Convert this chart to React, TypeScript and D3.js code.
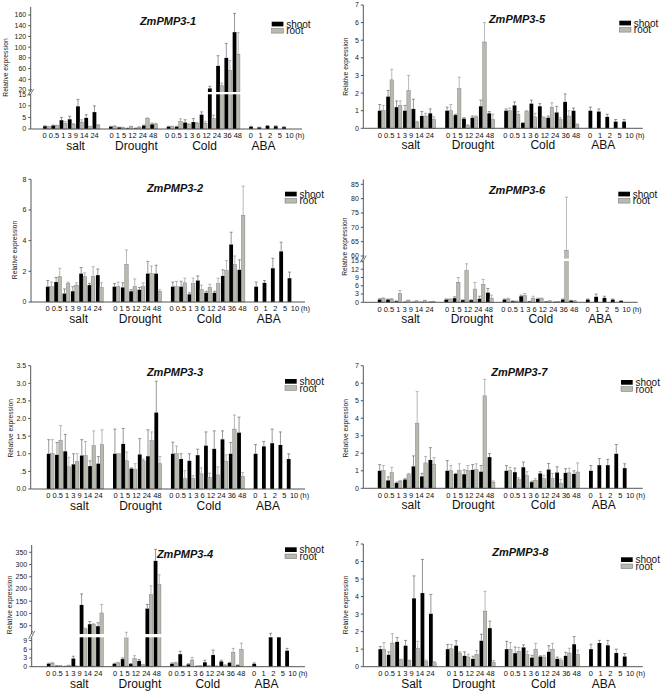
import React from "react";
import * as d3 from "d3";

// ---------- categories / labels ----------
const conditions = ["salt", "Drought", "Cold", "ABA"];
const saltTimes = ["0", "0.5", "1", "3", "9", "14", "24"];
const droughtTimes = ["0", "1", "5", "12", "24", "48"];
const coldTimes = ["0", "0.5", "1", "3", "6", "12", "24", "36", "48"];
const abaTimes = ["0", "1", "2", "5", "10"];
const timeGroups = [saltTimes, droughtTimes, coldTimes, abaTimes];
const seriesNames = ["shoot", "root"];

// ---------- data (salt | drought | cold | ABA) ; root has no ABA ----------
// ZmPMP3-1
const zm1Shoot = [1.2, 1.5, 3.8, 4.2, 9.8, 4.8, 7.3, 1.0, 0.7, 0.3, 0.3, 1.5, 2.0, 1.0, 1.0, 2.8, 3.0, 6.2, 23, 65, 80, 128, 1.0, 0.7, 1.3, 1.2, 0.8];
const zm1ShootHi = [1.4, 1.7, 5.0, 5.5, 12.8, 6.2, 10.0, 1.2, 0.8, 0.4, 0.4, 1.7, 2.5, 1.2, 1.2, 4.0, 4.5, 7.4, 27, 84, 107, 163, 1.2, 0.8, 1.5, 1.4, 1.0];
const zm1Root = [1.0, 1.5, 2.5, 2.0, 3.0, 1.0, 1.7, 1.2, 0.7, 1.0, 0.8, 4.5, 2.2, 1.0, 3.2, 2.0, 2.5, 2.5, 4.5, 28, 57, 87];
const zm1RootHi = [1.1, 1.6, 3.2, 2.3, 4.0, 1.2, 1.9, 1.4, 0.8, 1.2, 1.0, 4.8, 2.4, 1.2, 4.4, 2.3, 2.8, 3.3, 6.0, 33, 75, 127];
// ZmPMP3-5
const zm5Shoot = [1.0, 1.8, 1.2, 1.0, 1.1, 0.7, 0.85, 1.0, 0.75, 0.55, 0.6, 1.25, 0.85, 1.0, 1.3, 0.3, 1.4, 1.25, 0.6, 0.9, 1.5, 1.0, 1.0, 0.95, 0.65, 0.38, 0.38];
const zm5ShootHi = [1.35, 2.15, 1.55, 1.3, 1.65, 0.95, 1.1, 1.2, 0.8, 0.6, 0.7, 1.6, 0.95, 1.1, 1.5, 0.32, 1.6, 1.4, 0.7, 1.25, 1.95, 1.15, 1.2, 1.1, 0.8, 0.5, 0.5];
const zm5Root = [1.0, 2.75, 1.3, 2.15, 0.35, 0.7, 0.5, 1.0, 2.25, 0.15, 0.65, 4.9, 0.5, 1.0, 0.8, 0.95, 0.65, 0.6, 1.2, 0.5, 0.7, 0.2];
const zm5RootHi = [1.3, 3.35, 1.55, 3.0, 0.4, 0.85, 0.65, 1.35, 2.9, 0.2, 0.7, 6.0, 0.8, 1.15, 0.95, 1.0, 0.85, 0.65, 1.45, 0.6, 1.0, 0.25];
// ZmPMP3-2
const zm2Shoot = [1.0, 1.3, 0.55, 0.7, 1.85, 1.1, 1.75, 1.0, 0.95, 0.7, 0.8, 1.85, 1.85, 1.0, 1.0, 0.5, 1.4, 0.6, 0.6, 1.7, 3.75, 2.1, 1.0, 1.25, 2.2, 3.3, 1.55];
const zm2ShootHi = [1.4, 1.6, 0.85, 1.0, 2.25, 1.2, 2.15, 1.2, 1.25, 0.8, 0.95, 2.65, 2.4, 1.3, 1.35, 0.6, 1.7, 0.7, 0.7, 2.1, 4.55, 2.75, 1.3, 1.4, 2.85, 3.9, 1.95];
const zm2Root = [1.0, 1.65, 1.2, 1.1, 1.65, 1.65, 0.95, 1.0, 2.45, 1.0, 1.0, 1.85, 0.7, 1.0, 1.25, 1.2, 0.8, 0.95, 1.2, 2.05, 2.45, 5.65];
const zm2RootHi = [1.3, 2.2, 1.3, 1.25, 1.9, 2.3, 1.25, 1.3, 3.4, 1.5, 1.25, 2.35, 0.8, 1.35, 1.55, 1.55, 1.1, 1.15, 1.55, 2.7, 3.0, 7.55];
// ZmPMP3-6
const zm6Shoot = [1.0, 1.0, 0.4, 0.1, 0.1, 0.1, 0.1, 1.0, 1.5, 0.8, 0.8, 1.3, 3.5, 1.0, 0.4, 2.2, 0.3, 1.2, 0.2, 0.1, 1.0, 0.6, 1.0, 2.0, 1.6, 1.0, 0.5];
const zm6ShootHi = [1.3, 1.2, 0.5, 0.15, 0.15, 0.15, 0.15, 1.2, 2.0, 0.9, 0.9, 2.2, 5.0, 1.2, 0.5, 2.6, 0.35, 1.5, 0.25, 0.15, 1.2, 0.7, 1.2, 3.0, 2.2, 1.2, 0.6];
const zm6Root = [1.3, 1.1, 3.2, 0.7, 0.5, 0.6, 0.3, 1.1, 7.3, 11.5, 4.8, 6.5, 1.5, 1.2, 0.4, 2.4, 1.5, 1.3, 0.5, 0.2, 62, 0.5];
const zm6RootHi = [1.6, 1.4, 4.3, 0.8, 0.6, 0.7, 0.35, 1.3, 9.0, 14.0, 7.2, 8.3, 2.6, 1.5, 0.5, 3.2, 2.2, 1.5, 0.6, 0.25, 80.5, 0.6];
// ZmPMP3-3
const zm3Shoot = [1.0, 0.97, 1.07, 0.7, 0.95, 0.65, 0.72, 1.0, 1.28, 0.58, 0.98, 0.93, 2.17, 1.0, 0.85, 0.8, 0.96, 1.23, 1.14, 1.41, 1.0, 1.6, 1.0, 1.21, 1.3, 1.25, 0.85];
const zm3ShootHi = [1.4, 1.32, 1.55, 1.0, 1.4, 0.8, 0.92, 1.7, 1.72, 0.6, 1.43, 1.68, 3.06, 1.33, 1.0, 1.0, 1.13, 1.62, 1.65, 1.65, 1.32, 2.04, 1.26, 1.35, 1.7, 1.62, 1.0];
const zm3Root = [1.0, 1.38, 0.63, 0.78, 0.95, 1.23, 1.26, 1.0, 0.8, 0.55, 0.8, 1.38, 0.72, 1.0, 0.3, 0.3, 0.43, 0.33, 0.4, 0.78, 1.7, 0.36];
const zm3RootHi = [1.4, 1.8, 0.9, 1.0, 1.35, 1.65, 1.68, 1.0, 1.05, 0.72, 0.85, 1.62, 0.92, 1.22, 0.52, 0.38, 0.6, 0.45, 0.63, 0.97, 2.1, 0.47];
// ZmPMP3-7
const zm7Shoot = [1.0, 0.45, 0.3, 0.5, 1.25, 0.68, 1.62, 1.0, 0.82, 0.8, 1.05, 0.95, 1.78, 1.0, 0.92, 1.2, 0.35, 0.85, 1.07, 0.9, 0.88, 0.82, 1.0, 1.32, 1.32, 1.97, 1.15];
const zm7ShootHi = [1.35, 0.65, 0.35, 0.55, 1.85, 0.85, 2.32, 1.58, 0.85, 1.05, 1.35, 1.3, 1.98, 1.3, 1.15, 1.5, 0.4, 0.95, 1.42, 1.23, 1.12, 1.0, 1.3, 1.7, 1.65, 2.5, 1.4];
const zm7Root = [1.0, 0.9, 0.4, 0.78, 3.72, 1.45, 1.38, 1.0, 1.02, 1.02, 1.07, 5.28, 0.35, 1.0, 0.5, 0.72, 0.45, 0.55, 0.55, 0.28, 0.88, 0.93];
const zm7RootHi = [1.3, 1.2, 0.45, 0.85, 5.52, 1.82, 1.75, 1.3, 1.4, 1.3, 1.4, 6.22, 0.42, 1.2, 0.6, 0.95, 0.55, 0.75, 0.85, 0.5, 1.15, 1.45];
// ZmPMP3-4
const zm4Shoot = [1.0, 0.3, 0.1, 2.8, 135, 56, 48, 1.0, 2.6, 0.9, 2.0, 120, 315, 1.0, 4.3, 0.8, 0.2, 1.5, 4.0, 1.8, 1.3, 0.5, 1.0, 0.05, 12, 12, 5.5];
const zm4ShootHi = [1.2, 0.35, 0.15, 3.6, 180, 67, 62, 1.2, 3.0, 1.1, 2.5, 137, 362, 1.3, 5.3, 1.0, 0.25, 2.2, 5.7, 2.2, 1.5, 0.6, 1.3, 0.05, 19, 12, 6.3];
const zm4Root = [1.2, 0.3, 0.4, 0.2, 37, 55, 102, 1.3, 12, 2.8, 0.7, 177, 218, 1.3, 0.2, 2.3, 0.3, 0.3, 0.2, 0.5, 5.0, 6.0];
const zm4RootHi = [1.5, 0.35, 0.5, 0.25, 40, 58, 137, 1.5, 23, 3.8, 0.8, 213, 258, 1.5, 0.25, 3.2, 0.35, 0.35, 0.25, 0.7, 6.3, 8.1];
// ZmPMP3-8
const zm8Shoot = [1.0, 0.68, 1.42, 1.2, 3.9, 4.2, 3.02, 1.0, 1.2, 0.62, 0.45, 1.48, 2.2, 1.0, 0.77, 1.1, 0.52, 0.58, 0.85, 0.45, 0.62, 1.28, 1.0, 1.35, 1.22, 0.78, 0.58];
const zm8ShootHi = [1.15, 0.85, 1.67, 1.5, 5.18, 6.12, 4.12, 1.27, 1.48, 0.85, 0.6, 1.85, 2.6, 1.45, 1.12, 1.25, 0.65, 0.62, 1.2, 0.55, 0.82, 1.72, 1.28, 1.5, 1.5, 1.0, 0.75];
const zm8Root = [1.0, 1.35, 0.4, 0.35, 1.05, 0.28, 0.22, 1.02, 0.78, 0.55, 0.7, 3.17, 0.25, 1.0, 0.88, 0.68, 1.0, 0.55, 1.0, 0.35, 0.78, 0.7];
const zm8RootHi = [1.38, 1.88, 0.42, 0.37, 1.45, 0.38, 0.28, 1.27, 0.85, 0.72, 0.93, 4.3, 0.35, 1.38, 1.1, 0.88, 1.33, 0.65, 1.33, 0.45, 1.05, 0.95];

// ---------- layout ----------
const FONT = "'Liberation Sans', Arial, Helvetica, sans-serif";
const slotOffsets = [0, 8, 15, 25];
const labelShift = [4, 3, 1, -6];
const shootSlots = timeGroups.flatMap((g, gi) => g.map((_, j) => slotOffsets[gi] + j));
const rootSlots = shootSlots.slice(0, 22);
const BW = 3.8;
const SHOOT_FILL = "#000";
const ROOT_FILL = "#b6baaf";
const TICK_FS = 7.5;

// width of a label token in em (Arial metrics: digits .556, '.' and space .278)
const tokenEm = (s: string) => s.split("").reduce((a, c) => a + (c === "." ? 0.278 : 0.556), 0);
// centres of tokens when a group of labels is written as one space-separated line
function tokenCenters(tokens: string[], center: number, fs: number): number[] {
  const sp = 0.278 * fs;
  const widths = tokens.map((t) => tokenEm(t) * fs);
  const total = d3.sum(widths) + sp * (tokens.length - 1);
  let x = center - total / 2;
  return widths.map((w) => {
    const c = x + w / 2;
    x += w + sp;
    return c;
  });
}

type Brk = { L: number; lowY: number; u: [number, number]; uy: [number, number]; U: number; top: number };
type Cfg = {
  title: string; shoot: number[]; shootHi: number[]; root: number[]; rootHi: number[];
  ax: number; base: number; xEnd: number; s0: number; s29: number;
  yMax?: number; yTop?: number; brk?: Brk; ticks: number[]; fmt?: (d: number) => string;
  titleX: number; titleY: number; legX: number; legY: number; ylabX: number; ylabY: number;
  condNames?: string[];
};

const panels: Cfg[] = [
  {
    title: "ZmPMP3-1", shoot: zm1Shoot, shootHi: zm1ShootHi, root: zm1Root, rootHi: zm1RootHi,
    ax: 30.7, base: 129, xEnd: 302, s0: 46.9, s29: 285.9,
    brk: { L: 15, lowY: 94.3, u: [40, 160], uy: [79.3, 15], U: 16.3, top: 175 },
    ticks: [0, 5, 10, 15, 20, 40, 60, 80, 100, 120, 140, 160],
    titleX: 168, titleY: 20.7, legX: 271.7, legY: 21.7, ylabX: 5.7, ylabY: 67.5,
  },
  {
    title: "ZmPMP3-5", shoot: zm5Shoot, shootHi: zm5ShootHi, root: zm5Root, rootHi: zm5RootHi,
    ax: 363.3, base: 128.3, xEnd: 642.7, s0: 381.6, s29: 626,
    yMax: 7, yTop: 5, ticks: [0, 1, 2, 3, 4, 5, 6, 7],
    titleX: 517, titleY: 19.3, legX: 619.3, legY: 20.7, ylabX: 346, ylabY: 66.7,
  },
  {
    title: "ZmPMP3-2", shoot: zm2Shoot, shootHi: zm2ShootHi, root: zm2Root, rootHi: zm2RootHi,
    ax: 31, base: 302, xEnd: 305, s0: 49.7, s29: 291.4,
    yMax: 8, yTop: 179.3, ticks: [0, 2, 4, 6, 8],
    titleX: 175, titleY: 188.3, legX: 285, legY: 191.7, ylabX: 15, ylabY: 250,
  },
  {
    title: "ZmPMP3-6", shoot: zm6Shoot, shootHi: zm6ShootHi, root: zm6Root, rootHi: zm6RootHi,
    ax: 363.3, base: 302.3, xEnd: 637.7, s0: 381.6, s29: 623,
    brk: { L: 15, lowY: 261, u: [60, 85], uy: [256, 184.3], U: 59.1, top: 86.7 },
    ticks: [0, 3, 6, 9, 12, 15, 60, 65, 70, 75, 80, 85],
    titleX: 517, titleY: 190, legX: 618.3, legY: 191.7, ylabX: 344.3, ylabY: 246.7,
  },
  {
    title: "ZmPMP3-3", shoot: zm3Shoot, shootHi: zm3ShootHi, root: zm3Root, rootHi: zm3RootHi,
    ax: 30.7, base: 489, xEnd: 305, s0: 50.6, s29: 290.6,
    yMax: 3.5, yTop: 365.7, ticks: [0, 0.5, 1, 1.5, 2, 2.5, 3, 3.5],
    fmt: (d: number) => (d === 0.5 ? ".5" : d.toFixed(1)),
    titleX: 175, titleY: 371.7, legX: 285, legY: 379, ylabX: 11, ylabY: 428.3,
  },
  {
    title: "ZmPMP3-7", shoot: zm7Shoot, shootHi: zm7ShootHi, root: zm7Root, rootHi: zm7RootHi,
    ax: 363.3, base: 488.3, xEnd: 642.7, s0: 381.6, s29: 626.6,
    yMax: 7, yTop: 365.7, ticks: [0, 1, 2, 3, 4, 5, 6, 7],
    titleX: 519.3, titleY: 372.3, legX: 621, legY: 380, ylabX: 346, ylabY: 428.3,
  },
  {
    title: "ZmPMP3-4", shoot: zm4Shoot, shootHi: zm4ShootHi, root: zm4Root, rootHi: zm4RootHi,
    ax: 31.7, base: 666.7, xEnd: 305, s0: 50.6, s29: 289,
    brk: { L: 10.1, lowY: 637.3, u: [50, 350], uy: [625.7, 552.3], U: 16, top: 380 },
    ticks: [0, 3, 6, 9, 50, 100, 150, 200, 250, 300, 350],
    titleX: 185, titleY: 554.3, legX: 285, legY: 547.3, ylabX: 10, ylabY: 605,
  },
  {
    title: "ZmPMP3-8", shoot: zm8Shoot, shootHi: zm8ShootHi, root: zm8Root, rootHi: zm8RootHi,
    ax: 363.3, base: 666.7, xEnd: 642.7, s0: 382.2, s29: 626.6,
    yMax: 7, yTop: 544, ticks: [0, 1, 2, 3, 4, 5, 6, 7],
    titleX: 520.3, titleY: 552.3, legX: 621, legY: 557.3, ylabX: 346, ylabY: 605,
    condNames: ["Salt", "Drought", "Cold", "ABA"],
  },
];

function Panel({ cfg }: { cfg: Cfg }) {
  const xs = d3.scaleLinear().domain([0, 29]).range([cfg.s0, cfg.s29]);
  let y: (v: number) => number;
  let topY: number;
  let band: { y0: number; y1: number } | null = null;
  if (cfg.brk) {
    const b = cfg.brk;
    const lower = d3.scaleLinear().domain([0, b.L]).range([cfg.base, b.lowY]);
    const upper = d3.scaleLinear().domain(b.u).range(b.uy);
    const upY = upper(b.U);
    y = (v: number) =>
      v <= b.L ? lower(v) : v >= b.U ? upper(v) : b.lowY + ((v - b.L) / (b.U - b.L)) * (upY - b.lowY);
    band = { y0: upY, y1: b.lowY };
    topY = upper(b.top);
  } else {
    const s = d3.scaleLinear().domain([0, cfg.yMax!]).range([cfg.base, cfg.yTop!]);
    y = (v: number) => s(v);
    topY = cfg.yTop!;
  }
  const fmt = cfg.fmt || ((d: number) => String(d));
  const names = cfg.condNames || conditions;
  const ax = cfg.ax;

  const errLine = (x: number, v: number, hi: number, color: string, key: string) => {
    if (hi <= v) return null;
    const y0 = y(v);
    const y1 = y(hi);
    return (
      <g key={key} stroke={color} strokeWidth={0.7}>
        <line x1={x} x2={x} y1={y0} y2={y1} />
        <line x1={x - 1.5} x2={x + 1.5} y1={y1} y2={y1} />
      </g>
    );
  };

  const groupCenter = (gi: number) => d3.mean(timeGroups[gi].map((_, j) => xs(slotOffsets[gi] + j)))!;

  return (
    <g>
      {/* bars */}
      {cfg.shoot.map((v, i) => {
        const xc = xs(shootSlots[i]);
        return <rect key={"s" + i} x={xc - BW} y={y(v)} width={BW} height={cfg.base - y(v)} fill={SHOOT_FILL} />;
      })}
      {cfg.root.map((v, i) => {
        const xc = xs(rootSlots[i]);
        return (
          <rect key={"r" + i} x={xc} y={y(v)} width={BW - 0.3} height={cfg.base - y(v)}
            fill={ROOT_FILL} stroke="#6f716b" strokeWidth={0.4} />
        );
      })}
      {/* break band */}
      {band && (
        <rect x={ax - 4} y={band.y0} width={cfg.xEnd - ax + 4} height={band.y1 - band.y0} fill="#fff" />
      )}
      {/* error bars */}
      {cfg.shoot.map((v, i) => errLine(xs(shootSlots[i]) - BW / 2, v, cfg.shootHi[i], "#6a6a6a", "es" + i))}
      {cfg.root.map((v, i) => errLine(xs(rootSlots[i]) + BW / 2 - 0.15, v, cfg.rootHi[i], "#9a9a9a", "er" + i))}

      {/* axes */}
      <g stroke="#555" strokeWidth={1} fill="none">
        {band ? (
          <>
            <line x1={ax} x2={ax} y1={cfg.base} y2={band.y1} />
            <line x1={ax} x2={ax} y1={band.y0} y2={topY} />
          </>
        ) : (
          <line x1={ax} x2={ax} y1={cfg.base} y2={topY} />
        )}
        <line x1={ax} x2={cfg.xEnd} y1={cfg.base} y2={cfg.base} />
        {cfg.ticks.map((t) => (
          <line key={"t" + t} x1={ax - 2.5} x2={ax} y1={y(t)} y2={y(t)} />
        ))}
      </g>
      {band && (
        <g stroke="#555" strokeWidth={0.8}>
          <line x1={ax - 3} x2={ax + 1} y1={band.y1 + 1.5} y2={band.y0 - 3} />
          <line x1={ax - 1} x2={ax + 3} y1={band.y1 + 1.5} y2={band.y0 - 3} />
        </g>
      )}
      {cfg.ticks.map((t) => (
        <text key={"tl" + t} x={ax - 4.5} y={y(t)} dy="0.35em" textAnchor="end" fontSize={7} fill="#222" fontFamily={FONT}>
          {fmt(t)}
        </text>
      ))}

      {/* x labels: laid out like a space-separated line per group */}
      {[0, 1, 2].map((gi) => {
        const cs = tokenCenters(timeGroups[gi], groupCenter(gi) - (gi === 0 ? 1 : 0), TICK_FS);
        return timeGroups[gi].map((lab, j) => (
          <text key={"x" + gi + "_" + j} x={cs[j]} y={cfg.base + 9.3} textAnchor="middle"
            fontSize={TICK_FS} fill="#111" fontFamily={FONT}>
            {lab}
          </text>
        ));
      })}
      {abaTimes.map((lab, j) => (
        <text key={"xa" + j} x={xs(slotOffsets[3] + j) + (j - 1.5) * 1.4} y={cfg.base + 9.3} textAnchor="middle"
          fontSize={TICK_FS} fill="#111" fontFamily={FONT}>
          {lab}
        </text>
      ))}
      <text x={xs(29) + 14} y={cfg.base + 9.3} textAnchor="middle" fontSize={TICK_FS} fill="#111" fontFamily={FONT}>
        (h)
      </text>
      {timeGroups.map((g, gi) => (
        <text key={"c" + gi} x={groupCenter(gi) + labelShift[gi]} y={cfg.base + 21} textAnchor="middle"
          fontSize={12} fill="#111" fontFamily={FONT}>
          {names[gi]}
        </text>
      ))}

      {/* y label */}
      <text transform={`translate(${cfg.ylabX},${cfg.ylabY}) rotate(-90)`} dy="0.35em" textAnchor="middle"
        fontSize={6.7} fill="#222" fontFamily={FONT}>
        Relative expression
      </text>

      {/* title */}
      <text x={cfg.titleX} y={cfg.titleY + 4} textAnchor="middle" fontSize={11} fontWeight="bold" fontStyle="italic"
        fill="#111" fontFamily={FONT}>
        {cfg.title}
      </text>

      {/* legend */}
      {seriesNames.map((s, i) => (
        <g key={"lg" + s}>
          <rect x={cfg.legX} y={cfg.legY + i * 6.7} width={11.7} height={4.7}
            fill={i === 0 ? SHOOT_FILL : ROOT_FILL} stroke={i === 0 ? "none" : "#6f716b"} strokeWidth={0.5} />
          <text x={cfg.legX + 14.5} y={cfg.legY + i * 6.7 + 6} fontSize={10} fill="#111" fontFamily={FONT}>
            {s}
          </text>
        </g>
      ))}
    </g>
  );
}

export default function App() {
  return (
    <svg width={662} height={694} viewBox="0 0 662 694"
      style={{ position: "absolute", left: 0, top: 0, display: "block", background: "#fff" }}>
      <rect width={662} height={694} fill="#fff" />
      {panels.map((p) => (
        <Panel key={p.title} cfg={p} />
      ))}
    </svg>
  );
}
